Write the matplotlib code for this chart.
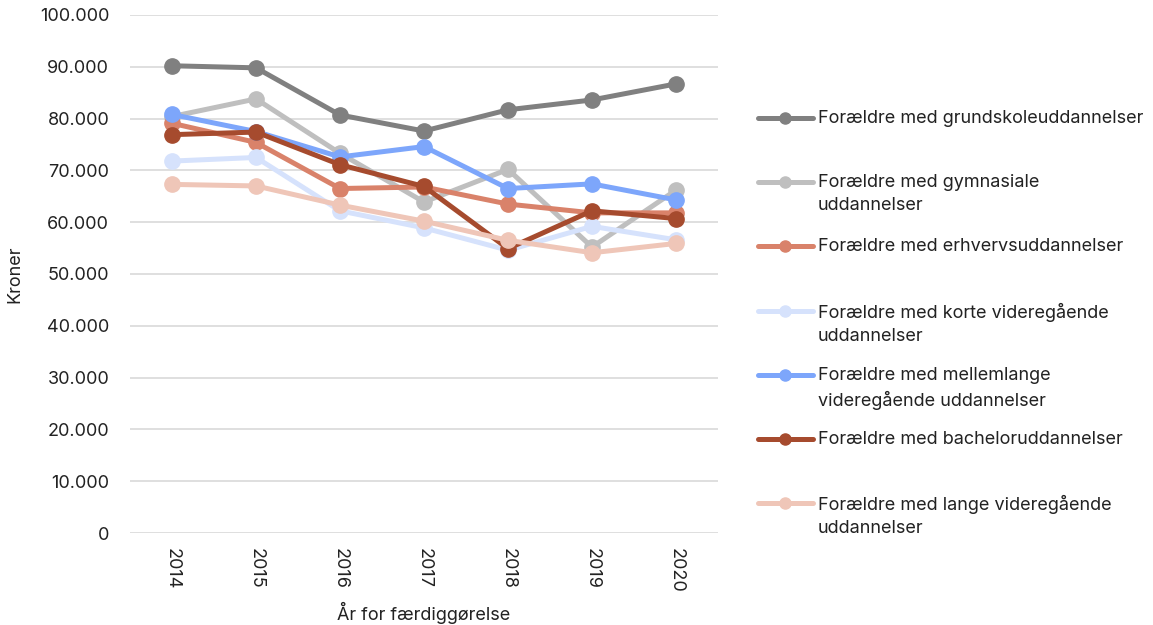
import matplotlib.pyplot as plt
from matplotlib.lines import Line2D
from matplotlib.ticker import FuncFormatter

plt.rcParams['font.family'] = ['Inter', 'DejaVu Sans']

years = ["2014", "2015", "2016", "2017", "2018", "2019", "2020"]

grundskole = [90200, 89800, 80700, 77600, 81700, 83600, 86700]
gymnasiale = [80400, 83800, 73300, 63900, 70200, 55200, 66200]
erhverv = [79100, 75400, 66500, 66800, 63500, 61800, 61800]
korte = [71800, 72500, 62200, 58900, 54600, 59200, 56600]
mellemlange = [80800, 77500, 72600, 74600, 66500, 67400, 64300]
bachelor = [76900, 77400, 71100, 66900, 54900, 62200, 60700]
lange = [67300, 67000, 63300, 60200, 56500, 54100, 55900]

labels = [
    "Forældre med grundskoleuddannelser",
    "Forældre med gymnasiale\nuddannelser",
    "Forældre med erhvervsuddannelser",
    "Forældre med korte videregående\nuddannelser",
    "Forældre med mellemlange\nvideregående uddannelser",
    "Forældre med bacheloruddannelser",
    "Forældre med lange videregående\nuddannelser",
]
colors = ["#808080", "#bfbfbf", "#d9826a", "#d6e2fc", "#7da6fb", "#a64b2e", "#efc6b8"]
series = [grundskole, gymnasiale, erhverv, korte, mellemlange, bachelor, lange]

fs = 13
txt = "#222222"

fig = plt.figure(figsize=(11.53, 6.25), dpi=100)
ax = fig.add_axes([130 / 1153, 1 - 533 / 625, 588 / 1153, 518 / 625])

x = list(range(len(years)))
for vals, c in zip(series, colors):
    ax.plot(x, vals, color=c, lw=3.6, marker="o", ms=11, solid_capstyle="round")

ax.set_xlim(-0.5, len(years) - 0.5)
ax.set_ylim(0, 100000)
ax.set_yticks(range(0, 100001, 10000))
ax.yaxis.set_major_formatter(FuncFormatter(lambda v, p: f"{int(v):,}".replace(",", ".")))
ax.set_xticks(x)
ax.set_xticklabels(years, rotation=-90)
ax.grid(axis="y", color="#d9d9d9", lw=1.2)
ax.set_axisbelow(True)
for s in ax.spines.values():
    s.set_visible(False)
ax.tick_params(length=0, labelsize=fs, colors=txt)
ax.tick_params(axis="y", pad=15)
ax.tick_params(axis="x", pad=11)
ax.set_xlabel("År for færdiggørelse", fontsize=fs, color=txt, va="center")
ax.set_ylabel("Kroner", fontsize=fs, color=txt, va="center")
ax.xaxis.set_label_coords(0.5, (533 - 613) / 518)
ax.yaxis.set_label_coords((15 - 130) / 588, 0.5)

# manual legend on the right
for i, (lab, c) in enumerate(zip(labels, colors)):
    yy = 1 - (118 + i * 64.2) / 625
    fig.add_artist(Line2D([758 / 1153, 813 / 1153], [yy, yy], color=c, lw=3.6,
                          solid_capstyle="round", transform=fig.transFigure))
    fig.add_artist(Line2D([785 / 1153], [yy], color=c, marker="o", ms=8,
                          transform=fig.transFigure))
    fig.text(818 / 1153, yy + 8 / 625, lab, fontsize=fs, color=txt,
             va="top", ha="left", linespacing=1.45)

fig.savefig("out.png", dpi=100)
